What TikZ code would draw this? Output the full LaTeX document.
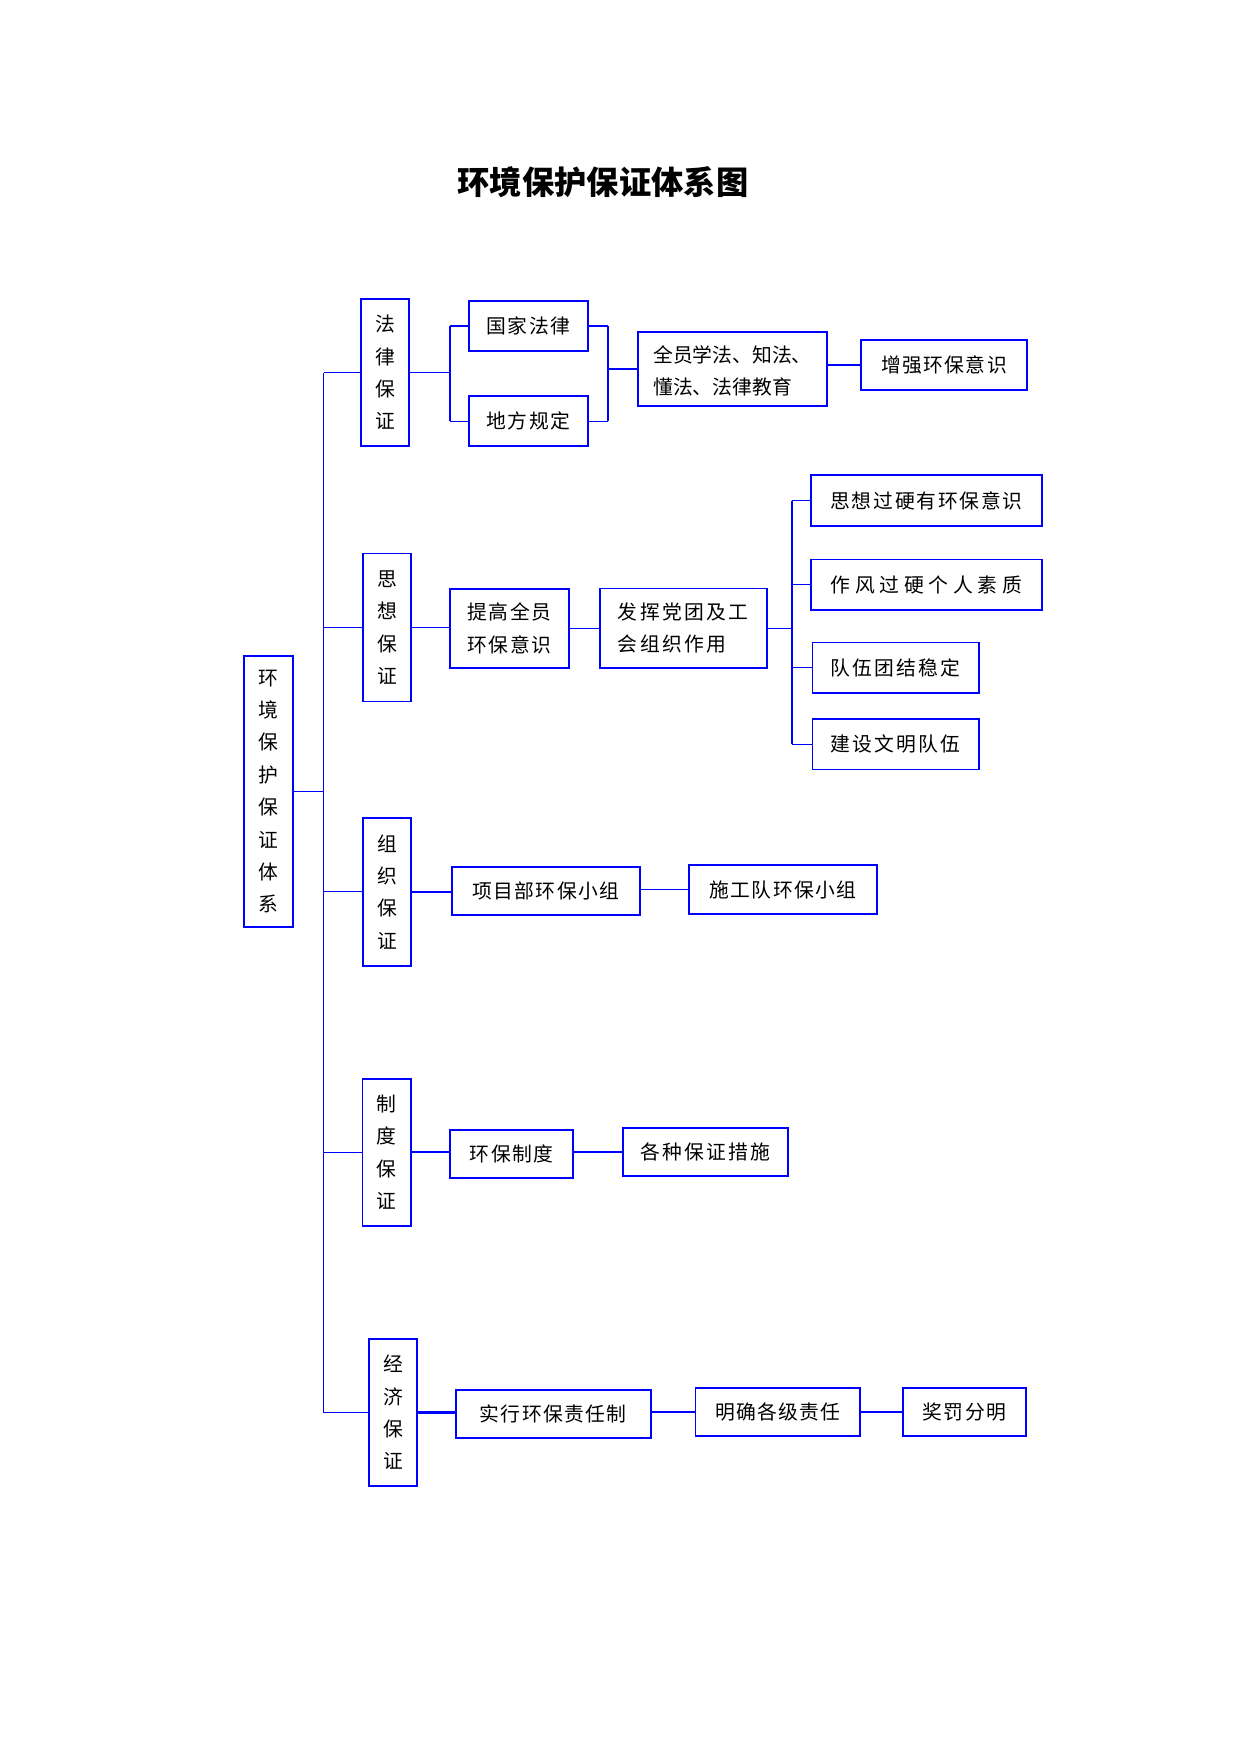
\documentclass[tikz,border=0pt]{standalone}
\usepackage{fontspec}
\usepackage{xcolor}
\usetikzlibrary{positioning,calc}
\newfontfamily\cjk{Noto Sans CJK SC}
\definecolor{frame}{RGB}{0,0,255}
\newcommand{\boxfont}{\cjk\fontsize{9.5}{15.55}\selectfont\addfontfeature{LetterSpace=7}}
\newcommand{\tightfont}{\cjk\fontsize{9.5}{15.4}\selectfont}
\newcommand{\widefont}{\cjk\fontsize{9.5}{15.55}\selectfont\addfontfeature{LetterSpace=24}}
\newcommand{\titlefont}{\cjk\fontsize{15.5}{18}\selectfont\bfseries}
\tikzstyle{item}=[draw=frame, line width=.8pt, inner sep=0pt, font=\boxfont, align=left]
\tikzstyle{pillar}=[item, align=center]
\tikzstyle{link}=[draw=frame, line width=.55pt]
\tikzstyle{bracket}=[draw=frame, line width=1pt]
\tikzset{dims/.style 2 args={minimum width=#1*.48pt, minimum height=#2*.48pt}}
\tikzset{y=-.48pt}
\tikzset{x=.48pt}

\begin{document}
\begin{tikzpicture}
  \useasboundingbox (0,0) rectangle (1241,1754);
  \draw (603,182) node[font=\titlefont] (title) {环境保护保证体系图};

  %% root and the five pillars
  \draw (268.4,791.5) node[pillar,dims={49.3}{270.4}] (R) {环\\境\\保\\护\\保\\证\\体\\系};
  \draw (385,372.5) node[pillar,dims={48.6}{147.6}] (B1) {法\\律\\保\\证};
  \draw (386.9,627.5) node[pillar,dims={48.3}{147.7}] (B2) {思\\想\\保\\证};
  \draw (386.9,891.9) node[pillar,dims={48.3}{147.7}] (B3) {组\\织\\保\\证};
  \draw (386.7,1152.4) node[pillar,dims={48.7}{147.3}] (B4) {制\\度\\保\\证};
  \draw (393,1412.5) node[pillar,dims={48.1}{147}] (B5) {经\\济\\保\\证};

  \coordinate (T) at (323.7,0);
  \coordinate (K1) at (450,0);
  \coordinate (K2) at (607.7,0);
  \coordinate (K3) at (791.7,0);

  %% row 1
  \draw (528.4,326) node[item,dims={119.3}{50}] (B11) {国家法律};
  \draw (528.4,421.3) node[item,dims={119.3}{50}] (B12) {地方规定};
  \draw (732.5,369) node[item,dims={189.6}{74},font=\tightfont] (B13) {\rule{0pt}{10pt}全员学法、知法、\\懂法、法律教育};
  \draw (944,364.9) node[item,dims={166.6}{50.3}] (B14) {增强环保意识};

  %% row 2
  \draw (509.4,628.2) node[item,dims={119.3}{79}] (B21) {提高全员\\环保意识};
  \draw (683.2,628.2) node[item,dims={167}{79.7},font=\boxfont\addfontfeature{LetterSpace=12}] (B22) {发挥党团及工\\会组织作用};
  \draw (926.5,500.5) node[item,dims={231.6}{50.4},font=\boxfont\addfontfeature{LetterSpace=9}] (B23) {思想过硬有环保意识};
  \draw (926.5,584.7) node[item,dims={231.6}{50.7},font=\widefont] (B24) {作风过硬个人素质};
  \draw (895.7,667.7) node[item,dims={166.7}{50.7},font=\boxfont\addfontfeature{LetterSpace=11}] (B25) {队伍团结稳定};
  \draw (895.7,744.2) node[item,dims={166.7}{50.3},font=\boxfont\addfontfeature{LetterSpace=11}] (B26) {建设文明队伍};

  %% row 3
  \draw (545.9,891) node[item,dims={188.3}{48.6}] (B31) {项目部环保小组};
  \draw (783,889.5) node[item,dims={188}{49}] (B32) {施工队环保小组};

  %% row 4
  \draw (511.5,1153.7) node[item,dims={123.6}{48}] (B41) {环保制度};
  \draw (705.8,1151.9) node[item,dims={165}{48.3},font=\boxfont\addfontfeature{LetterSpace=11}] (B42) {各种保证措施};

  %% row 5
  \draw (553.2,1413.7) node[item,dims={195}{48}] (B51) {实行环保责任制};
  \draw (777.9,1412) node[item,dims={164.7}{48.6}] (B52) {明确各级责任};
  \draw (964.4,1412) node[item,dims={122.8}{48.6}] (B53) {奖罚分明};

  %% trunk
  \draw[link] (R.east) -- (R.east -| T);
  \draw[link] (B1.west -| T) -- (B5.west -| T);
  \foreach \b in {B1,B2,B3,B4,B5}
    \draw[link] (\b.west -| T) -- (\b.west);

  %% row 1 links
  \draw[link] (B1.east) -- (B1.east -| K1);
  \draw[bracket] (B11.west -| K1) -- (B12.west -| K1);
  \draw[link] (B11.west -| K1) -- (B11.west);
  \draw[link] (B12.west -| K1) -- (B12.west);
  \draw[link] (B11.east) -- (B11.east -| K2);
  \draw[link] (B12.east) -- (B12.east -| K2);
  \draw[bracket] (B11.east -| K2) -- (B12.east -| K2);
  \draw[link] (B13.west -| K2) -- (B13.west);
  \draw[bracket] (B14.west -| B13.east) -- (B14.west);

  %% row 2 links
  \draw[link] (B2.east) -- (B2.east -| B21.west);
  \draw[link] (B21.east) -- (B21.east -| B22.west);
  \draw[link] (B22.east) -- (B22.east -| K3);
  \draw[bracket] (B23.west -| K3) -- (B26.west -| K3);
  \foreach \b in {B23,B24,B25,B26}
    \draw[link] (\b.west -| K3) -- (\b.west);

  %% rows 3 to 5
  \draw[bracket] (B3.east) -- (B3.east -| B31.west);
  \draw[link] (B32.west -| B31.east) -- (B32.west);
  \draw[bracket] (B4.east) -- (B4.east -| B41.west);
  \draw[bracket] (B42.west -| B41.east) -- (B42.west);
  \draw[bracket] (B5.east) -- (B5.east -| B51.west);
  \draw[bracket] (B52.west -| B51.east) -- (B52.west);
  \draw[bracket] (B53.west -| B52.east) -- (B53.west);
\end{tikzpicture}
\end{document}
